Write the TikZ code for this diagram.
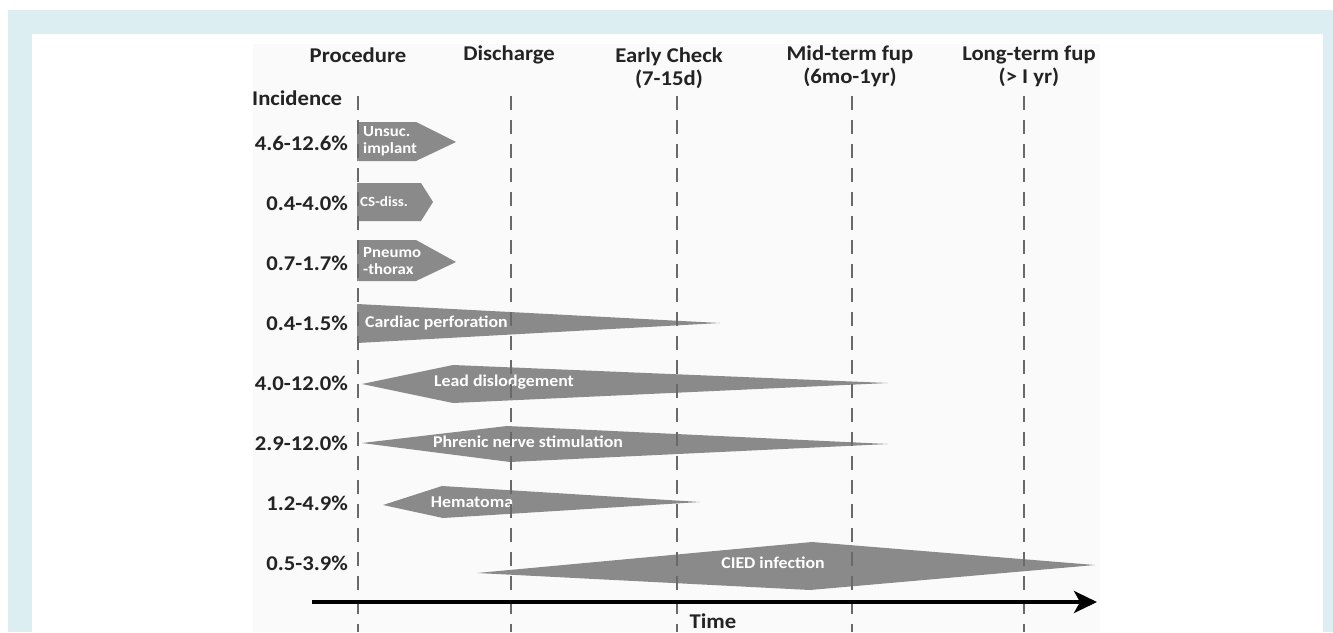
\documentclass[tikz,border=0pt]{standalone}
\usepackage{fontspec}
\setmainfont{Carlito}[FakeStretch=1.08]
\usetikzlibrary{arrows.meta,positioning}

\definecolor{framebg}{RGB}{221,238,243}
\definecolor{panelbg}{RGB}{250,250,250}
\definecolor{barfill}{RGB}{138,138,138}
\definecolor{gridline}{RGB}{105,105,105}
\definecolor{inktext}{RGB}{35,35,35}

\begin{document}
\begin{tikzpicture}
  [x=1pt,y=-1pt,node distance=60pt,on grid,
  >={Stealth[length=23pt,width=22pt,inset=6pt]},
  header/.style={font=\fontsize{21}{23}\selectfont\bfseries,align=center,text=inktext,inner sep=0pt},
  rate/.style={font=\fontsize{21}{22}\selectfont\bfseries,text width=100pt,align=right,text=inktext,inner sep=0pt},
  bar/.style={fill=barfill,draw=none},
  barlabel/.style={font=\fontsize{16.5}{17}\selectfont\bfseries,text=white,inner sep=0pt},
  tag/.style={font=\fontsize{15.5}{16.5}\selectfont\bfseries,text=white,align=left,anchor=west,inner sep=0pt},
  milestone/.style={gridline,line width=2.6pt,dash pattern=on 14pt off 10pt},
  timeline/.style={black,line width=3.5pt,->}]

  % frame and panel
  \fill[white] (0,0) rectangle (1333,632);
  \fill[framebg] (8,10) rectangle (1333,632);
  \fill[white] (32,34) rectangle (1323,632);
  \fill[panelbg] (253,44) rectangle (1100,632);
  \useasboundingbox (0,0) rectangle (1333,632);

  % column headings
  \node[header] (proc) at (358,55) {Procedure};
  \node[header] (disch) at (509,55) {Discharge};
  \node[header] (early) at (669,68) {Early Check\\(7-15d)};
  \node[header] (mid) at (850,66) {Mid-term fup\\(6mo-1yr)};
  \node[header] (long) at (1029,66) {Long-term fup\\(> I yr)};
  \node[header,anchor=west] (incid) at (252,98) {Incidence};

  % incidence rates
  \node[rate] (r1) at (298,143) {4.6-12.6\%};
  \node[rate] (r2) [below=of r1] {0.4-4.0\%};
  \node[rate] (r3) [below=of r2] {0.7-1.7\%};
  \node[rate] (r4) [below=of r3] {0.4-1.5\%};
  \node[rate] (r5) [below=of r4] {4.0-12.0\%};
  \node[rate] (r6) [below=of r5] {2.9-12.0\%};
  \node[rate] (r7) [below=of r6] {1.2-4.9\%};
  \node[rate] (r8) [below=of r7] {0.5-3.9\%};

  % complication bars
  \fill[bar] (357,122) -- (416,122) -- (456,142) -- (416,161) -- (357,161) -- cycle;
  \fill[bar] (357,183) -- (421,183) -- (433,202) -- (421,221) -- (357,221) -- cycle;
  \fill[bar] (357,240) -- (416,240) -- (456,262) -- (416,281) -- (357,281) -- cycle;
  \fill[bar] (357,304) -- (720,323) -- (357,343) -- cycle;
  \fill[bar] (362,384) -- (453,365) -- (888,383) -- (453,403) -- cycle;
  \fill[bar] (362,443) -- (507,426) -- (888,444) -- (510,462) -- cycle;
  \fill[bar] (383,505) -- (442,486) -- (700,502) -- (443,518) -- cycle;
  \fill[bar] (477,573) -- (812,542) -- (1095,565) -- (810,590) -- cycle;

  \node[tag] (unsuc) at (363,141) {Unsuc.\\implant};
  \node[tag,font=\fontsize{14}{15}\selectfont\bfseries] (csdiss) at (360,202) {CS-diss.};
  \node[tag] (pneumo) at (363,261) {Pneumo\\-thorax};
  \node[barlabel,anchor=west] (perf) at (365,323) {Cardiac perforation};
  \node[barlabel] (lead) at (504,382) {Lead dislodgement};
  \node[barlabel] (phren) at (528,442) {Phrenic nerve stimulation};
  \node[barlabel] (hema) at (472,502) {Hematoma};
  \node[barlabel] (cied) at (773,563) {CIED infection};

  % milestones
  \foreach \name/\x in {proc/358,disch/511,early/677,mid/852,long/1024}
    \draw[milestone] (\x,96) coordinate (\name top) -- (\x,632) coordinate (\name bot);

  % time axis
  \coordinate (t0) at (312,602);
  \coordinate (t1) at (1097,602);
  \draw[timeline] (t0) -- (t1);
  \node[header] (time) at (713,621) {Time};
\end{tikzpicture}
\end{document}
